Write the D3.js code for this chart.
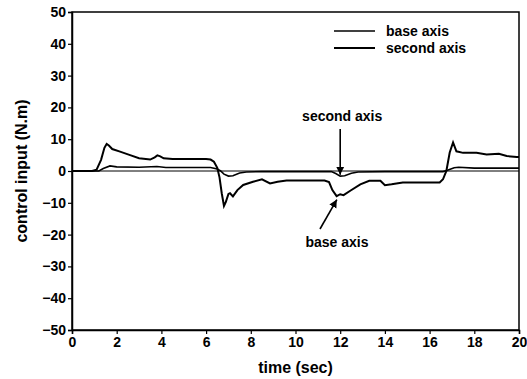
<!DOCTYPE html>
<html>
<head>
<meta charset="utf-8">
<script src="https://cdn.jsdelivr.net/npm/d3@7"></script>
<style>
  html, body { margin: 0; padding: 0; background: #fff; }
  svg text { font-family: "Liberation Sans", Arial, Helvetica, sans-serif; font-weight: bold; fill: #000; }
</style>
</head>
<body>
<svg id="chart" width="527" height="379"></svg>
<script>
// Control torques for the two joints over one 20 s run
const baseTime = [0, 0.9, 1.1, 1.3, 1.45, 1.55, 1.65, 1.8, 2.15, 2.6, 3.0, 3.5, 3.7, 3.82, 3.95, 4.1, 4.5, 5.0, 6.0, 6.2, 6.35, 6.5, 6.6, 6.7, 6.8, 6.88, 7.0, 7.07, 7.2, 7.4, 7.66, 8.1, 8.5, 8.86, 9.2, 9.6, 10.5, 11.3, 11.5, 11.65, 11.84, 12.0, 12.15, 12.45, 12.9, 13.3, 13.8, 14.0, 14.3, 14.8, 15.5, 16.45, 16.6, 16.75, 16.9, 17.05, 17.2, 17.5, 18.1, 18.55, 19.1, 19.45, 19.9, 20];
const baseTorque = [0, 0, 0.4, 3.5, 7.3, 8.5, 8.0, 6.9, 6.1, 5.0, 4.0, 3.6, 4.3, 4.9, 4.6, 4.0, 3.8, 3.8, 3.8, 3.6, 2.9, 1.0, -2, -7, -11.0, -9.8, -7.2, -7.0, -8.0, -6.0, -4.4, -3.4, -2.6, -3.9, -3.4, -3.0, -3.0, -3.0, -3.5, -6.0, -7.9, -7.3, -7.6, -6.2, -4.2, -3.1, -3.1, -4.5, -4.2, -3.6, -3.6, -3.6, -2.6, 0, 5.8, 9.0, 6.2, 5.7, 5.7, 5.2, 5.4, 4.7, 4.4, 4.4];

const secondTime = [0, 1.2, 1.4, 1.7, 2.0, 3.0, 3.8, 4.2, 6.2, 6.5, 6.65, 6.8, 7.0, 7.2, 7.5, 7.8, 8.5, 11.6, 11.8, 12.0, 12.2, 12.5, 12.8, 14.0, 16.6, 16.8, 17.1, 17.3, 18.0, 20];
const secondTorque = [0, 0, 0.8, 1.6, 1.3, 1.2, 1.4, 1.1, 1.1, 0.6, 0, -1.0, -1.6, -1.5, -0.6, -0.3, -0.2, -0.2, -0.8, -1.6, -1.5, -0.7, -0.3, -0.2, -0.2, 0.2, 1.0, 1.2, 0.9, 0.9];

const xTicks = [0, 2, 4, 6, 8, 10, 12, 14, 16, 18, 20];
const yTicks = [-50, -40, -30, -20, -10, 0, 10, 20, 30, 40, 50];
const seriesNames = ["base axis", "second axis"];

const svg = d3.select("#chart");
const plotLeft = 72, plotRight = 519, plotTop = 12, plotBottom = 330;

const x = d3.scaleLinear().domain([0, 20]).range([plotLeft, plotRight]);
const y = d3.scaleLinear().domain([-50, 50]).range([plotBottom, plotTop]);

// frame
svg.append("rect")
  .attr("x", plotLeft).attr("y", plotTop)
  .attr("width", plotRight - plotLeft).attr("height", plotBottom - plotTop)
  .attr("fill", "none").attr("stroke", "#000").attr("stroke-width", 1.5);

// axes
const yAxis = svg.append("g")
  .attr("transform", `translate(${plotLeft},0)`)
  .call(d3.axisLeft(y).tickValues(yTicks).tickSize(4).tickPadding(2).tickFormat(d3.format("d")));
const xAxis = svg.append("g")
  .attr("transform", `translate(0,${plotBottom})`)
  .call(d3.axisBottom(x).tickValues(xTicks).tickSize(4).tickPadding(3).tickFormat(d3.format("d")));
[yAxis, xAxis].forEach(g => {
  g.select(".domain").attr("stroke-width", 1.5);
  g.selectAll(".tick line").attr("stroke-width", 1.2);
  g.selectAll(".tick text").style("font-size", "14px").style("font-family", "'Liberation Sans', Arial, sans-serif").style("font-weight", "bold");
});

// zero reference
svg.append("line")
  .attr("x1", plotLeft).attr("x2", plotRight)
  .attr("y1", y(0)).attr("y2", y(0))
  .attr("stroke", "#000").attr("stroke-width", 1);

const line = d3.line().x(d => x(d[0])).y(d => y(d[1]));

svg.append("path")
  .datum(secondTime.map((t, i) => [t, secondTorque[i]]))
  .attr("d", line).attr("fill", "none").attr("stroke", "#000").attr("stroke-width", 1.6);

svg.append("path")
  .datum(baseTime.map((t, i) => [t, baseTorque[i]]))
  .attr("d", line).attr("fill", "none").attr("stroke", "#000").attr("stroke-width", 2);

// axis titles
svg.append("text")
  .attr("x", (plotLeft + plotRight) / 2).attr("y", 373)
  .attr("text-anchor", "middle").style("font-size", "16px")
  .text("time (sec)");
svg.append("text")
  .attr("transform", `translate(27,${(plotTop + plotBottom) / 2}) rotate(-90)`)
  .attr("text-anchor", "middle").style("font-size", "16px")
  .text("control input (N.m)");

// legend
const legend = svg.append("g");
seriesNames.forEach((name, i) => {
  const ly = 31 + i * 17;
  legend.append("line")
    .attr("x1", 334).attr("x2", 375).attr("y1", ly).attr("y2", ly)
    .attr("stroke", "#000").attr("stroke-width", i === 0 ? 1.5 : 1.8);
  legend.append("text")
    .attr("x", 386).attr("y", ly + 5)
    .style("font-size", "14px")
    .text(name);
});

// arrow annotations
const defs = svg.append("defs");
defs.append("marker")
  .attr("id", "head").attr("viewBox", "0 0 10 10")
  .attr("refX", 10).attr("refY", 5)
  .attr("markerWidth", 5).attr("markerHeight", 6)
  .attr("markerUnits", "strokeWidth")
  .attr("orient", "auto")
  .append("path").attr("d", "M0,0 L10,5 L0,10 Z").attr("fill", "#000");

svg.append("text")
  .attr("x", x(12) + 2).attr("y", 121)
  .attr("text-anchor", "middle").style("font-size", "14px")
  .text("second axis");
svg.append("line")
  .attr("x1", x(12)).attr("y1", 129)
  .attr("x2", x(12)).attr("y2", y(-1.2))
  .attr("stroke", "#000").attr("stroke-width", 1.6)
  .attr("marker-end", "url(#head)");

svg.append("line")
  .attr("x1", 320).attr("y1", 229)
  .attr("x2", x(11.85)).attr("y2", y(-9))
  .attr("stroke", "#000").attr("stroke-width", 1.6)
  .attr("marker-end", "url(#head)");
svg.append("text")
  .attr("x", 337).attr("y", 247)
  .attr("text-anchor", "middle").style("font-size", "14px")
  .text("base axis");
</script>
</body>
</html>
